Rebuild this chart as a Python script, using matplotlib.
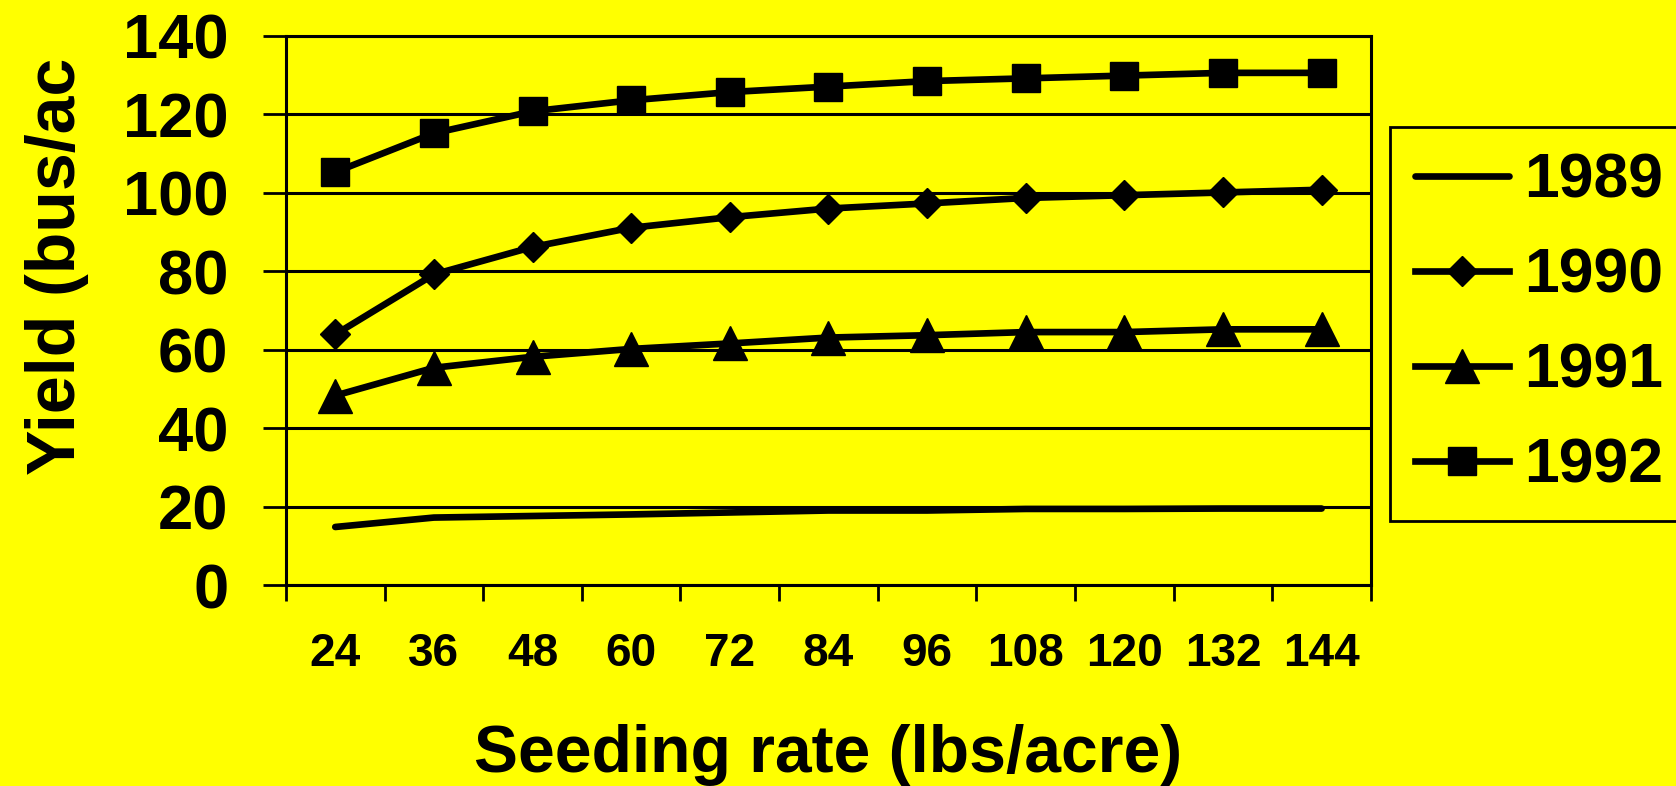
import matplotlib
matplotlib.use("Agg")
import matplotlib.pyplot as plt
import numpy as np

# seeding rate trial, yield by year
rates = [24, 36, 48, 60, 72, 84, 96, 108, 120, 132, 144]
y1989 = [14.8, 17.2, 17.6, 18.0, 18.5, 19.0, 19.0, 19.4, 19.4, 19.5, 19.5]
y1990 = [63.9, 79.2, 86.2, 91.1, 93.8, 96.0, 97.3, 98.7, 99.4, 100.1, 100.8]
y1991 = [48.3, 55.4, 58.2, 60.2, 61.6, 63.1, 63.7, 64.5, 64.5, 65.2, 65.2]
y1992 = [105.3, 115.2, 120.8, 123.6, 125.7, 127.1, 128.5, 129.2, 129.9, 130.6, 130.6]
years = ["1989", "1990", "1991", "1992"]
yticks = [0, 20, 40, 60, 80, 100, 120, 140]

plt.rcParams["font.family"] = ["Liberation Sans", "DejaVu Sans"]
plt.rcParams["font.weight"] = "bold"

bg = "#ffff00"
fig = plt.figure(figsize=(16.76, 7.86), dpi=100, facecolor=bg)
ax = fig.add_axes([0.1706, 0.2557, 0.6474, 0.6985], facecolor=bg)

x = np.arange(len(rates))
lw = 4.8
ax.plot(x, y1989, color="black", lw=lw, solid_capstyle="round", label=years[0])
ax.plot(x, y1990, color="black", lw=lw, marker="D", ms=14.8, label=years[1])
ax.plot(x, y1991, color="black", lw=lw, marker="^", ms=25, label=years[2])
ax.plot(x, y1992, color="black", lw=lw, marker="s", ms=19.5, label=years[3])

ax.set_xlim(-0.5, len(rates) - 0.5)
ax.set_ylim(0, 140)
ax.set_yticks(yticks)
ax.set_yticklabels([str(v) for v in yticks], fontsize=45.5, fontweight="bold")
ax.set_xticks(x)
ax.set_xticklabels([str(r) for r in rates], fontsize=33, fontweight="bold")
ax.set_xticks(np.arange(len(rates) + 1) - 0.5, minor=True)

ax.tick_params(axis="x", which="major", length=0, pad=34)
ax.tick_params(axis="x", which="minor", length=11.5, width=2, direction="out")
ax.tick_params(axis="y", length=16.5, width=2, direction="out", pad=25)

ax.grid(axis="y", color="black", lw=2.2)
ax.set_axisbelow(True)
for s in ax.spines.values():
    s.set_linewidth(2.2)
    s.set_color("black")

ax.set_xlabel("Seeding rate (lbs/acre)", fontsize=47.5, fontweight="bold", va="center")
ax.xaxis.set_label_coords(0.5, -0.31)
ax.set_ylabel("Yield (bus/ac", fontsize=49, fontweight="bold", va="center")
ax.yaxis.set_label_coords(-0.211, 0.58)

leg = fig.legend(loc="upper left", bbox_to_anchor=(1390 / 1676, 1 - 127 / 786),
                 prop={"weight": "bold", "size": 45},
                 frameon=True, fancybox=False, edgecolor="black", facecolor=bg,
                 framealpha=1, handlelength=1.5, handletextpad=0.24,
                 labelspacing=0.575, borderpad=0.4, borderaxespad=0, numpoints=1)
leg.get_frame().set_linewidth(2)

fig.savefig("out.png", dpi=100, facecolor=bg)
